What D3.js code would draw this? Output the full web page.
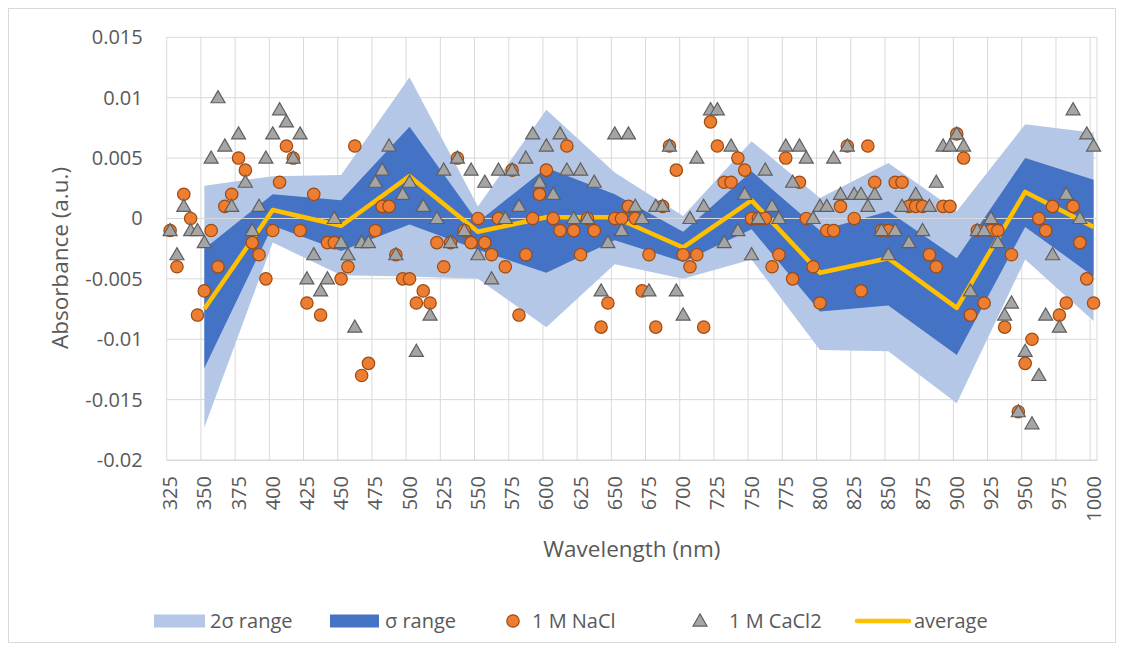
<!DOCTYPE html>
<html>
<head>
<meta charset="utf-8">
<script src="https://cdn.jsdelivr.net/npm/d3@7"></script>
<style>
  body { margin: 0; background: #fff; }
  svg { font-family: "Open Sans", sans-serif; }
</style>
</head>
<body>
<div class="chart"></div>
<script>
// categories (nm), one every 5 nm
const wavelengths = d3.range(325, 1001, 5)
const tickWl = wavelengths.filter(w => (w - 325) % 25 == 0)

// 1 M NaCl absorbance, 325..1000 nm
const nacl = [
  -0.001,-0.004,0.002,0,-0.008,-0.006,-0.001,-0.004,0.001,0.002,
  0.005,0.004,-0.002,-0.003,-0.005,-0.001,0.003,0.006,0.005,-0.001,
  -0.007,0.002,-0.008,-0.002,-0.002,-0.005,-0.004,0.006,-0.013,-0.012,
  -0.001,0.001,0.001,-0.003,-0.005,-0.005,-0.007,-0.006,-0.007,-0.002,
  -0.004,-0.002,0.005,-0.001,-0.002,0,-0.002,-0.003,0,-0.004,
  0.004,-0.008,-0.003,0,0.002,0.004,0,-0.001,0.006,-0.001,
  -0.003,0,-0.001,-0.009,-0.007,0,0,0.001,0,-0.006,
  -0.003,-0.009,0.001,0.006,0.004,-0.003,-0.004,-0.003,-0.009,0.008,
  0.006,0.003,0.003,0.005,0.004,0,0,0,-0.004,-0.003,
  0.005,-0.005,0.003,0,-0.004,-0.007,-0.001,-0.001,0.001,0.006,
  0,-0.006,0.006,0.003,-0.001,-0.001,0.003,0.003,0.001,0.001,
  0.001,-0.003,-0.004,0.001,0.001,0.007,0.005,-0.008,-0.001,-0.007,
  -0.001,-0.001,-0.009,-0.003,-0.016,-0.012,-0.010,0,-0.001,0.001,
  -0.008,-0.007,0.001,-0.002,-0.005,-0.007
]

// 1 M CaCl2 absorbance, 325..1000 nm
const cacl2 = [
  -0.001,-0.003,0.001,-0.001,-0.001,-0.002,0.005,0.010,0.006,0.001,
  0.007,0.003,-0.001,0.001,0.005,0.007,0.009,0.008,0.005,0.007,
  -0.005,-0.003,-0.006,-0.005,0,-0.002,-0.003,-0.009,-0.002,-0.002,
  0.003,0.004,0.006,-0.003,0.002,0.003,-0.011,0.001,-0.008,0,
  0.004,-0.002,0.005,-0.001,0.004,-0.003,0.003,-0.005,0.004,0,
  0.004,0.001,0.005,0.007,0.003,0.006,0.002,0.007,0.004,0,
  0.004,0,0.003,-0.006,-0.002,0.007,-0.001,0.007,0.001,0,
  -0.006,0.001,0.001,0.006,-0.006,-0.008,0,0.005,0.001,0.009,
  0.009,-0.002,0.006,-0.001,0.002,-0.003,0,0.004,0.001,0,
  0.006,0.003,0.006,0.005,0,0.001,0.001,0.005,0.002,0.006,
  0.002,0.002,0.001,0.002,-0.001,-0.003,-0.001,0.001,-0.002,0.002,
  -0.001,0.001,0.003,0.006,0.006,0.007,0.006,-0.006,-0.001,-0.001,
  0,-0.002,-0.008,-0.007,-0.016,-0.011,-0.017,-0.013,-0.008,-0.003,
  -0.009,0.002,0.009,0,0.007,0.006
]

// statistics, every 50 nm
const bandWl = [350,400,450,500,550,600,650,700,750,800,850,900,950,1000]
const average = [-0.0075,0.0007,-0.0006,0.0035,-0.0011,0.0001,0.0001,-0.0024,0.0015,-0.0045,-0.0033,-0.0074,0.0022,-0.0007]
const sigmaHi = [-0.0025,0.0020,0.0015,0.0076,-0.0003,0.0042,0.0020,-0.0011,0.0039,-0.0010,0.0006,-0.0033,0.0050,0.0032]
const sigmaLo = [-0.0124,-0.0006,-0.0027,-0.0005,-0.0026,-0.0045,-0.0018,-0.0036,-0.0009,-0.0077,-0.0072,-0.0113,-0.0007,-0.0048]
const twoSigmaHi = [0.0027,0.0035,0.0036,0.0117,0.0010,0.0090,0.0038,0.0002,0.0064,0.0017,0.0046,0.0006,0.0078,0.0071]
const twoSigmaLo = [-0.0173,-0.0020,-0.0047,-0.0048,-0.0050,-0.0090,-0.0038,-0.0050,-0.0034,-0.0109,-0.0110,-0.0153,-0.0034,-0.0085]

const yTicks = [-0.02,-0.015,-0.01,-0.005,0,0.005,0.01,0.015]

const W = 1124, H = 651
const plot = { left: 166.7, right: 1097, top: 37.3, bottom: 460 }

const svg = d3.select(".chart").append("svg")
  .attr("width", W).attr("height", H)

// chart border
svg.append("rect")
  .attr("x", 8.5).attr("y", 8.5)
  .attr("width", 1107).attr("height", 634)
  .attr("fill", "#fff").attr("stroke", "#d9d9d9")

const x = d3.scaleBand().domain(wavelengths).range([plot.left, plot.right]).padding(0)
const cx = w => x(w) + x.bandwidth() / 2
const y = d3.scaleLinear().domain([-0.02, 0.015]).range([plot.bottom, plot.top])

// gridlines
const grid = svg.append("g").attr("stroke", "#d9d9d9").attr("stroke-width", 1)
grid.selectAll(".hg").data(yTicks).join("line")
  .attr("x1", plot.left).attr("x2", plot.right)
  .attr("y1", d => y(d)).attr("y2", d => y(d))
grid.selectAll(".vg").data(tickWl.map(w => x(w)).concat([plot.right])).join("line")
  .attr("x1", d => d).attr("x2", d => d)
  .attr("y1", plot.top).attr("y2", plot.bottom)

// bands
const bands = bandWl.map((w, i) => ({ w, avg: average[i], s1: sigmaHi[i], s0: sigmaLo[i], t1: twoSigmaHi[i], t0: twoSigmaLo[i] }))

svg.append("path").datum(bands)
  .attr("fill", "#b4c7e7")
  .attr("d", d3.area().x(d => cx(d.w)).y0(d => y(d.t0)).y1(d => y(d.t1)))
svg.append("path").datum(bands)
  .attr("fill", "#4472c4")
  .attr("d", d3.area().x(d => cx(d.w)).y0(d => y(d.s0)).y1(d => y(d.s1)))

// zero axis line
svg.append("line")
  .attr("x1", plot.left).attr("x2", plot.right)
  .attr("y1", y(0)).attr("y2", y(0))
  .attr("stroke", "#d9d9d9").attr("stroke-width", 1)

// average
svg.append("path").datum(bands)
  .attr("fill", "none").attr("stroke", "#ffc000")
  .attr("stroke-width", 4.5).attr("stroke-linejoin", "round")
  .attr("d", d3.line().x(d => cx(d.w)).y(d => y(d.avg)))

// NaCl circles
svg.append("g").selectAll("circle")
  .data(wavelengths.map((w, i) => ({ w, v: nacl[i] })))
  .join("circle")
  .attr("cx", d => cx(d.w)).attr("cy", d => y(d.v))
  .attr("r", 6.2)
  .attr("fill", "#ed7d31").attr("stroke", "#9c4a12").attr("stroke-width", 1.2)

// CaCl2 triangles
const tri = d3.symbol().type(d3.symbolTriangle).size(85)
svg.append("g").selectAll("path")
  .data(wavelengths.map((w, i) => ({ w, v: cacl2[i] })))
  .join("path")
  .attr("transform", d => "translate(" + cx(d.w) + "," + (y(d.v) + 1) + ")")
  .attr("d", tri)
  .attr("fill", "#a5a5a5").attr("stroke", "#5f5f5f").attr("stroke-width", 1.2)

// y axis
const yAxis = svg.append("g")
  .attr("transform", "translate(" + plot.left + ",0)")
  .call(d3.axisLeft(y).tickValues(yTicks).tickSize(0).tickPadding(24)
    .tickFormat(d => String(+d.toFixed(3))))
yAxis.select(".domain").remove()
yAxis.selectAll("text").style("font-size", "20px").style("font-family", "Open Sans").attr("fill", "#595959")

// x axis
const xAxis = svg.append("g")
  .attr("transform", "translate(0," + plot.bottom + ")")
  .call(d3.axisBottom(x).tickValues(tickWl).tickSize(0))
xAxis.select(".domain").attr("stroke", "#d9d9d9")
xAxis.selectAll("text")
  .attr("transform", "rotate(-90)")
  .attr("x", -16).attr("y", 0).attr("dy", "0.35em")
  .style("text-anchor", "end")
  .style("font-size", "20px").style("font-family", "Open Sans")
  .attr("fill", "#595959")

// axis titles
svg.append("text")
  .attr("transform", "translate(60,258) rotate(-90)")
  .attr("text-anchor", "middle").attr("dy", "0.35em")
  .style("font-size", "22.5px").attr("fill", "#595959")
  .text("Absorbance (a.u.)")
svg.append("text")
  .attr("x", (plot.left + plot.right) / 2).attr("y", 557)
  .attr("text-anchor", "middle")
  .style("font-size", "22.5px").attr("fill", "#595959")
  .text("Wavelength (nm)")

// legend
const ly = 621
const leg = svg.append("g").style("font-size", "20px").attr("fill", "#595959")
leg.append("rect").attr("x", 154).attr("y", ly - 6.5).attr("width", 51).attr("height", 13).attr("fill", "#b4c7e7")
leg.append("text").attr("x", 210).attr("y", ly).attr("dy", "0.35em").text("2σ range")
leg.append("rect").attr("x", 330).attr("y", ly - 6.5).attr("width", 49).attr("height", 13).attr("fill", "#4472c4")
leg.append("text").attr("x", 385).attr("y", ly).attr("dy", "0.35em").text("σ range")
leg.append("circle").attr("cx", 513).attr("cy", ly).attr("r", 6.2)
  .attr("fill", "#ed7d31").attr("stroke", "#9c4a12").attr("stroke-width", 1.2)
leg.append("text").attr("x", 532).attr("y", ly).attr("dy", "0.35em").text("1 M NaCl")
leg.append("path").attr("transform", "translate(700," + (ly + 1) + ")").attr("d", tri)
  .attr("fill", "#a5a5a5").attr("stroke", "#5f5f5f").attr("stroke-width", 1.2)
leg.append("text").attr("x", 729).attr("y", ly).attr("dy", "0.35em").text("1 M CaCl2")
leg.append("line").attr("x1", 857).attr("x2", 909).attr("y1", ly).attr("y2", ly)
  .attr("stroke", "#ffc000").attr("stroke-width", 4.5).attr("stroke-linecap", "round")
leg.append("text").attr("x", 914).attr("y", ly).attr("dy", "0.35em").text("average")
</script>
</body>
</html>
